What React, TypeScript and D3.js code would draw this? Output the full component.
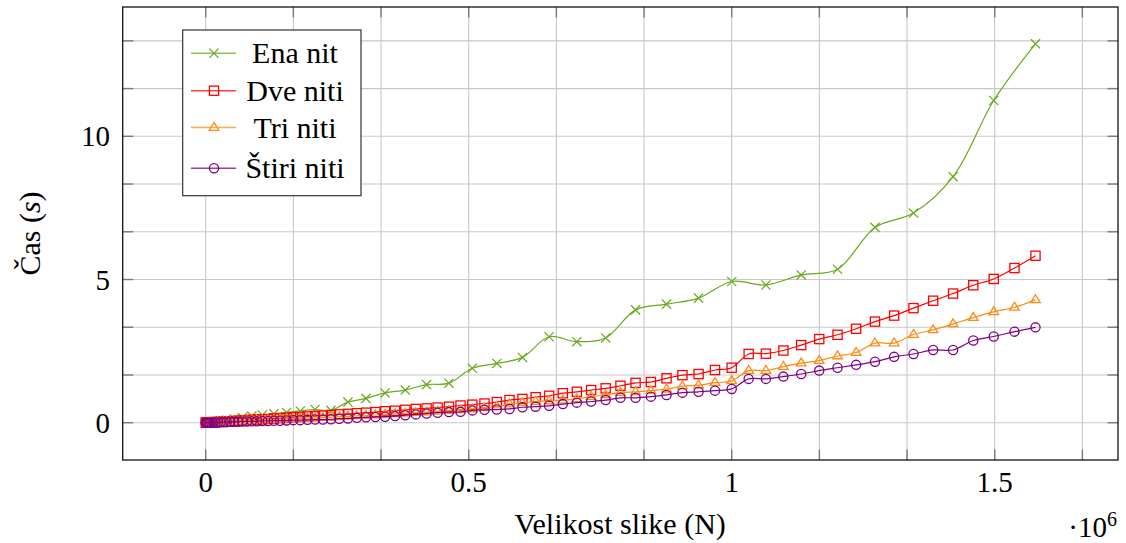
import * as d3 from 'd3';
import React, {useEffect, useRef} from 'react';

// image sizes in pixels (N)
const sizes = [
  64, 576, 1600, 3136, 5184, 7744, 10816, 14400, 18496, 23104,
  28224, 33856, 40000, 46656, 53824, 61504, 69696, 78400, 87616, 97344,
  107584, 118336, 129600, 141376, 153664, 166464, 179776, 193600, 207936, 222784,
  238144, 254016, 270400, 287296, 304704, 322624, 341056, 360000, 379456, 399424,
  419904, 440896, 462400, 484416, 506944, 529984, 553536, 577600, 602176, 627264,
  652864, 678976, 705600, 732736, 760384, 788544, 817216, 846400, 876096, 906304,
  937024, 968256, 1000000, 1032256, 1065024, 1098304, 1132096, 1166400, 1201216, 1236544,
  1272384, 1308736, 1345600, 1382976, 1420864, 1459264, 1498176, 1537600, 1577536
];

// one thread was measured on every second size
const enaSizes = [
  64, 1600, 5184, 10816, 18496, 28224, 40000, 53824, 69696, 87616,
  107584, 129600, 153664, 179776, 207936, 238144, 270400, 304704, 341056, 379456,
  419904, 462400, 506944, 553536, 602176, 652864, 705600, 760384, 817216, 876096,
  937024, 1000000, 1065024, 1132096, 1201216, 1272384, 1345600, 1420864, 1498176, 1577536
];
const enaNit = [
  0.00, 0.00, 0.01, 0.02, 0.04, 0.06, 0.09, 0.13, 0.18, 0.23,
  0.27, 0.31, 0.36, 0.41, 0.46, 0.43, 0.72, 0.85, 1.04, 1.14,
  1.33, 1.38, 1.90, 2.07, 2.28, 3.00, 2.83, 2.96, 3.94, 4.14,
  4.35, 4.93, 4.81, 5.16, 5.36, 6.82, 7.32, 8.59, 11.25, 13.23
];
const dveNiti = [
  0.00, 0.00, 0.00, 0.00, 0.01, 0.01, 0.01, 0.02, 0.02, 0.03,
  0.03, 0.04, 0.05, 0.05, 0.06, 0.07, 0.08, 0.09, 0.10, 0.11,
  0.12, 0.13, 0.15, 0.16, 0.17, 0.19, 0.20, 0.22, 0.23, 0.25,
  0.27, 0.29, 0.31, 0.33, 0.35, 0.37, 0.40, 0.42, 0.45, 0.48,
  0.50, 0.53, 0.56, 0.60, 0.63, 0.67, 0.72, 0.79, 0.83, 0.89,
  0.94, 1.03, 1.08, 1.14, 1.20, 1.29, 1.39, 1.42, 1.55, 1.66,
  1.70, 1.84, 1.92, 2.40, 2.41, 2.52, 2.71, 2.92, 3.07, 3.28,
  3.53, 3.74, 4.00, 4.26, 4.51, 4.80, 5.02, 5.40, 5.83
];
const triNiti = [
  0.00, 0.00, 0.00, 0.00, 0.00, 0.01, 0.01, 0.01, 0.02, 0.02,
  0.02, 0.03, 0.03, 0.04, 0.04, 0.05, 0.06, 0.06, 0.07, 0.08,
  0.09, 0.10, 0.11, 0.12, 0.13, 0.14, 0.15, 0.16, 0.17, 0.18,
  0.19, 0.21, 0.22, 0.24, 0.25, 0.27, 0.29, 0.31, 0.33, 0.35,
  0.37, 0.40, 0.42, 0.45, 0.48, 0.52, 0.56, 0.65, 0.70, 0.74,
  0.76, 0.79, 0.83, 0.91, 0.97, 1.05, 1.08, 1.12, 1.17, 1.28,
  1.31, 1.40, 1.46, 1.82, 1.82, 1.96, 2.08, 2.17, 2.33, 2.45,
  2.78, 2.78, 3.08, 3.24, 3.45, 3.67, 3.87, 4.03, 4.29
];
const stiriNiti = [
  0.00, 0.00, 0.00, 0.00, 0.00, 0.00, 0.01, 0.01, 0.01, 0.01,
  0.02, 0.02, 0.02, 0.03, 0.03, 0.03, 0.04, 0.04, 0.05, 0.05,
  0.06, 0.06, 0.07, 0.07, 0.08, 0.09, 0.09, 0.10, 0.11, 0.11,
  0.12, 0.14, 0.15, 0.17, 0.19, 0.20, 0.21, 0.23, 0.26, 0.29,
  0.32, 0.35, 0.37, 0.38, 0.43, 0.45, 0.46, 0.48, 0.54, 0.56,
  0.59, 0.65, 0.70, 0.74, 0.79, 0.87, 0.87, 0.91, 0.97, 1.05,
  1.08, 1.12, 1.18, 1.53, 1.53, 1.61, 1.70, 1.82, 1.92, 2.02,
  2.13, 2.30, 2.40, 2.54, 2.54, 2.87, 3.01, 3.18, 3.33
];

const seriesNames = ['Ena nit', 'Dve niti', 'Tri niti', 'Štiri niti'];
const seriesColors = ['#6aa81e', '#ff0000', '#ff8a12', '#800080'];
const seriesMarks = ['x', 'square', 'triangle', 'circle'];

const xTicks = [0, 500000, 1000000, 1500000];
const xTickLabels = ['0', '0.5', '1', '1.5'];
const yTicks = [0, 5, 10];
const yTickLabels = ['0', '5', '10'];

const FONT = "Tinos, 'Times New Roman', Times, 'Nimbus Roman', 'Nimbus Roman No9 L', FreeSerif, 'Noto Serif', 'Liberation Serif', 'DejaVu Serif', serif";

function drawMark(g, kind, cx, cy, color) {
  const r = 4.6;
  if (kind === 'x') {
    g.append('path')
      .attr('d', `M${cx - r},${cy - r}L${cx + r},${cy + r}M${cx - r},${cy + r}L${cx + r},${cy - r}`)
      .attr('stroke', color).attr('stroke-width', 1.2).attr('fill', 'none');
  } else if (kind === 'square') {
    g.append('rect')
      .attr('x', cx - r).attr('y', cy - r).attr('width', 2 * r).attr('height', 2 * r)
      .attr('stroke', color).attr('stroke-width', 1.3).attr('fill', 'none');
  } else if (kind === 'triangle') {
    const h = r * 1.1;
    g.append('path')
      .attr('d', `M${cx},${cy - h}L${cx + h * 0.95},${cy + h * 0.55}L${cx - h * 0.95},${cy + h * 0.55}Z`)
      .attr('stroke', color).attr('stroke-width', 1.3).attr('fill', 'none');
  } else {
    g.append('circle')
      .attr('cx', cx).attr('cy', cy).attr('r', r)
      .attr('stroke', color).attr('stroke-width', 1.3).attr('fill', 'none');
  }
}

export default function App() {
  const ref = useRef(null);

  useEffect(() => {
    const left = 122.7, right = 1118, top = 7, bottom = 460;
    const svg = d3.select(ref.current);
    svg.selectAll('*').remove();

    const x = d3.scaleLinear().domain([-157800, 1734400]).range([left, right]);
    const y = d3.scaleLinear().domain([-1.302, 14.515]).range([bottom, top]);

    const xGrid = d3.range(-1, 12).map(i => i * 1e6 / 6).filter(v => v > x.domain()[0] && v < x.domain()[1]);
    const yGrid = d3.range(-1, 10).map(i => i * 5 / 3).filter(v => v > y.domain()[0] && v < y.domain()[1]);

    const grid = svg.append('g');
    grid.selectAll('line.vx').data(xGrid).join('line')
      .attr('x1', d => x(d)).attr('x2', d => x(d)).attr('y1', top).attr('y2', bottom)
      .attr('stroke', '#c8c8c8').attr('stroke-width', 1.1);
    grid.selectAll('line.hy').data(yGrid).join('line')
      .attr('class', 'hy')
      .attr('y1', d => y(d)).attr('y2', d => y(d)).attr('x1', left).attr('x2', right)
      .attr('stroke', '#c8c8c8').attr('stroke-width', 1.1);

    const tl = 10.5;
    const ticks = svg.append('g').attr('stroke', '#7a7a7a').attr('stroke-width', 1.4);
    xGrid.forEach(v => {
      ticks.append('line').attr('x1', x(v)).attr('x2', x(v)).attr('y1', bottom).attr('y2', bottom - tl);
      ticks.append('line').attr('x1', x(v)).attr('x2', x(v)).attr('y1', top).attr('y2', top + tl);
    });
    yGrid.forEach(v => {
      ticks.append('line').attr('y1', y(v)).attr('y2', y(v)).attr('x1', left).attr('x2', left + tl);
      ticks.append('line').attr('y1', y(v)).attr('y2', y(v)).attr('x1', right).attr('x2', right - tl);
    });

    svg.append('rect')
      .attr('x', left).attr('y', top).attr('width', right - left).attr('height', bottom - top)
      .attr('fill', 'none').attr('stroke', '#111').attr('stroke-width', 1.3);

    // tick labels
    svg.append('g').selectAll('text').data(xTicks).join('text')
      .attr('x', d => x(d)).attr('y', 492)
      .attr('text-anchor', 'middle')
      .style('font-size', '29px')
      .text((d, i) => xTickLabels[i]);
    svg.append('g').selectAll('text').data(yTicks).join('text')
      .attr('x', 110).attr('y', d => y(d) + 10)
      .attr('text-anchor', 'end')
      .style('font-size', '29px')
      .text((d, i) => yTickLabels[i]);

    // axis labels
    svg.append('text')
      .attr('x', 620).attr('y', 534)
      .attr('text-anchor', 'middle')
      .style('font-size', '30px')
      .text('Velikost slike (N)');
    const e6 = svg.append('text')
      .attr('x', 1117).attr('y', 537)
      .attr('text-anchor', 'end')
      .style('font-size', '29px');
    e6.append('tspan').text('·10');
    e6.append('tspan').style('font-size', '20px').attr('dy', -11).text('6');

    const yl = svg.append('text')
      .attr('transform', `translate(40,${(top + bottom) / 2}) rotate(-90)`)
      .attr('text-anchor', 'middle')
      .style('font-size', '30px');
    yl.append('tspan').text('Čas (');
    yl.append('tspan').style('font-style', 'italic').text('s');
    yl.append('tspan').text(')');

    // series
    const series = [
      enaSizes.map((s, i) => [s, enaNit[i]]),
      sizes.map((s, i) => [s, dveNiti[i]]),
      sizes.map((s, i) => [s, triNiti[i]]),
      sizes.map((s, i) => [s, stiriNiti[i]])
    ];
    const line = d3.line()
      .x(d => x(d[0]))
      .y(d => y(d[1]))
      .curve(d3.curveCatmullRom.alpha(0.5));

    series.forEach((data, si) => {
      const g = svg.append('g');
      g.append('path')
        .attr('d', line(data))
        .attr('fill', 'none')
        .attr('stroke', seriesColors[si])
        .attr('stroke-width', 1.2);
      data.forEach(d => drawMark(g, seriesMarks[si], x(d[0]), y(d[1]), seriesColors[si]));
    });

    // legend
    const lg = svg.append('g');
    lg.append('rect')
      .attr('x', 182.7).attr('y', 30).attr('width', 178.3).attr('height', 165.7)
      .attr('fill', 'white').attr('stroke', '#333').attr('stroke-width', 1.2);
    const rowY = [53.3, 90.7, 127.5, 168.3];
    seriesNames.forEach((name, i) => {
      lg.append('line')
        .attr('x1', 191).attr('x2', 236).attr('y1', rowY[i]).attr('y2', rowY[i])
        .attr('stroke', seriesColors[i]).attr('stroke-width', 1.4).attr('opacity', 0.75);
      drawMark(lg, seriesMarks[i], 214, rowY[i], seriesColors[i]);
      lg.append('text')
        .attr('x', 295).attr('y', rowY[i] + 10)
        .attr('text-anchor', 'middle')
        .style('font-size', '30px')
        .text(name);
    });
  }, []);

  return (
    <svg ref={ref} width={1126} height={543}
         style={{position: 'absolute', left: 0, top: 0, background: 'white', fontFamily: FONT}}/>
  );
}
